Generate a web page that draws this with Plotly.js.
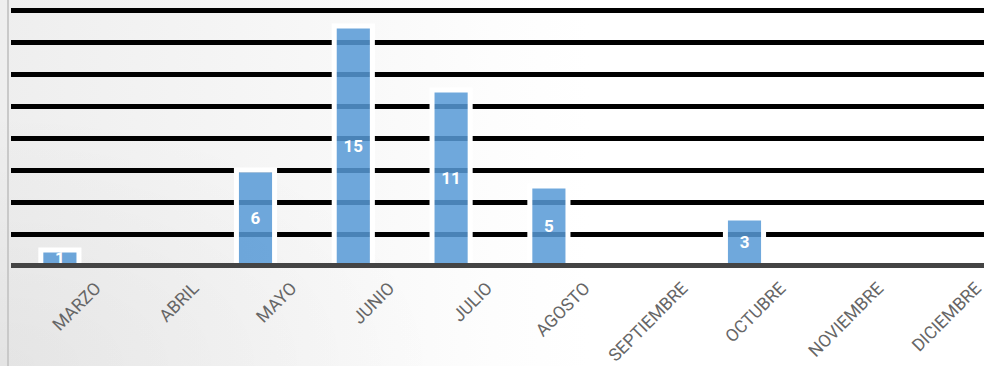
<!DOCTYPE html>
<html>
<head>
<meta charset="utf-8">
<script src="https://cdn.plot.ly/plotly-3.0.1.min.js"></script>
<style>
  html, body { margin: 0; padding: 0; width: 984px; height: 366px; overflow: hidden; background: #ffffff; }
  #wrap { position: absolute; left: 0; top: 0; width: 984px; height: 366px; overflow: hidden;
    background:
      radial-gradient(ellipse 45% 70% at 0% 100%, rgba(0,0,0,0.045), rgba(0,0,0,0) 100%),
      linear-gradient(to right, #eeeeee 0%, #f6f6f6 28%, #fdfdfd 50%, #ffffff 60%); }
  #edge { position: absolute; left: 7px; top: 0; width: 2px; height: 366px; background: #c9c9c9; }
  #chart { position: absolute; left: 0; top: 0; width: 1000px; height: 366px; }
</style>
</head>
<body>
<div id="wrap">
  <div id="edge"></div>
  <div id="chart"></div>
</div>
<script>
const months = ['MARZO', 'ABRIL', 'MAYO', 'JUNIO', 'JULIO', 'AGOSTO', 'SEPTIEMBRE', 'OCTUBRE', 'NOVIEMBRE', 'DICIEMBRE'];
const counts = [1, 0, 6, 15, 11, 5, 0, 3, 0, 0];

const trace = {
  type: 'bar',
  x: months,
  y: counts.map(v => (v === 0 ? null : v)),
  width: 0.39,
  text: counts.map(v => (v === 0 ? '' : String(v))),
  textposition: 'inside',
  insidetextanchor: 'middle',
  constraintext: 'none',
  textangle: 0,
  textfont: { family: 'Roboto, sans-serif', size: 17, color: '#ffffff', weight: 'bold' },
  marker: {
    color: 'rgba(87,153,214,0.855)',
    line: { color: '#ffffff', width: 5 }
  },
  cliponaxis: true,
  hoverinfo: 'skip'
};

const layout = {
  width: 1000,
  height: 366,
  margin: { l: 11, r: 11, t: 0, b: 103, pad: 0 },
  paper_bgcolor: 'rgba(0,0,0,0)',
  plot_bgcolor: 'rgba(0,0,0,0)',
  showlegend: false,
  bargap: 0,
  xaxis: {
    type: 'category',
    showgrid: false,
    zeroline: false,
    showline: true,
    linecolor: '#444444',
    linewidth: 5,
    layer: 'above traces',
    ticks: '',
    tickangle: -45,
    ticklabelshift: 36,
    ticklabelstandoff: 3,
    tickfont: { family: 'Roboto, sans-serif', size: 17.5, color: '#666666' },
    fixedrange: true
  },
  yaxis: {
    range: [0.19, 16.63],
    dtick: 2,
    tick0: 0,
    showgrid: true,
    gridcolor: '#000000',
    gridwidth: 5,
    zeroline: false,
    showline: false,
    showticklabels: false,
    ticks: '',
    fixedrange: true
  }
};

Plotly.newPlot('chart', [trace], layout, { staticPlot: true, displayModeBar: false });
</script>
</body>
</html>
